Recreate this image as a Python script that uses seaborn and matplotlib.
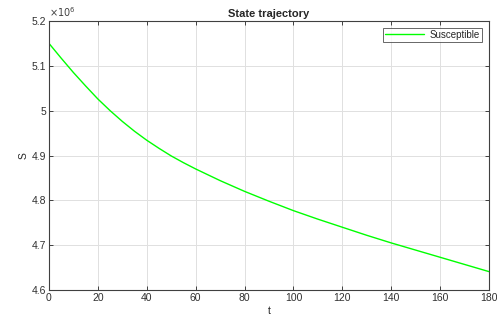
import matplotlib
matplotlib.use("Agg")
import matplotlib.pyplot as plt
from matplotlib.ticker import FuncFormatter
import seaborn as sns
import pandas as pd

# valeurs (S en individus)
t = [0, 5, 10, 15, 20, 25, 30, 35, 40, 45, 50, 55, 60, 70, 80, 90, 100, 110, 120, 130, 140, 150, 160, 170, 180]
S = [5.150, 5.117, 5.085, 5.055, 5.026, 5.000, 4.976, 4.954, 4.934, 4.916, 4.899, 4.884, 4.870,
     4.844, 4.820, 4.798, 4.777, 4.758, 4.740, 4.722, 4.705, 4.689, 4.673, 4.657, 4.641]
S = [v * 1e6 for v in S]

df = pd.DataFrame({"t": t, "S": S, "serie": "Susceptible"})

sns.set_theme(style="whitegrid")
plt.rcParams["font.family"] = ["Liberation Sans", "DejaVu Sans"]

fig = plt.figure(figsize=(4.97, 3.2), dpi=100)
ax = fig.add_axes([49 / 497, 30 / 320, 440 / 497, 269 / 320])

sns.lineplot(data=df, x="t", y="S", hue="serie", palette=["#00ff00"], linewidth=1.0, ax=ax)

ax.set_xlim(0, 180)
ax.set_ylim(4.6e6, 5.2e6)
ax.set_xticks(range(0, 181, 20))
ax.set_yticks([4.6e6, 4.7e6, 4.8e6, 4.9e6, 5.0e6, 5.1e6, 5.2e6])
ax.yaxis.set_major_formatter(FuncFormatter(lambda v, p: f"{v / 1e6:g}"))
ax.text(0, 1.008, r"$\times10^{6}$", transform=ax.transAxes, fontsize=7,
        color="#404040", ha="left", va="bottom")

ax.set_title("State trajectory", fontsize=8, fontweight="bold", pad=3)
ax.set_xlabel("t", fontsize=7.5, labelpad=2)
ax.set_ylabel("S", fontsize=7.5, labelpad=2)

ax.set_facecolor("white")
ax.grid(True, color="#e0e0e0", linewidth=0.7)
for side in ax.spines.values():
    side.set_visible(True)
    side.set_color("#404040")
    side.set_linewidth(0.8)
ax.tick_params(direction="in", length=3, width=0.7, color="#404040",
               labelsize=7.5, labelcolor="#303030", top=True, right=True,
               bottom=True, left=True, pad=2)

leg = ax.legend(loc="upper right", fontsize=7, frameon=True, fancybox=False,
                borderpad=0.2, handlelength=4.0, handletextpad=0.6, borderaxespad=0.7)
leg.get_frame().set_edgecolor("#404040")
leg.get_frame().set_linewidth(0.7)

fig.savefig("out.png", dpi=100)
